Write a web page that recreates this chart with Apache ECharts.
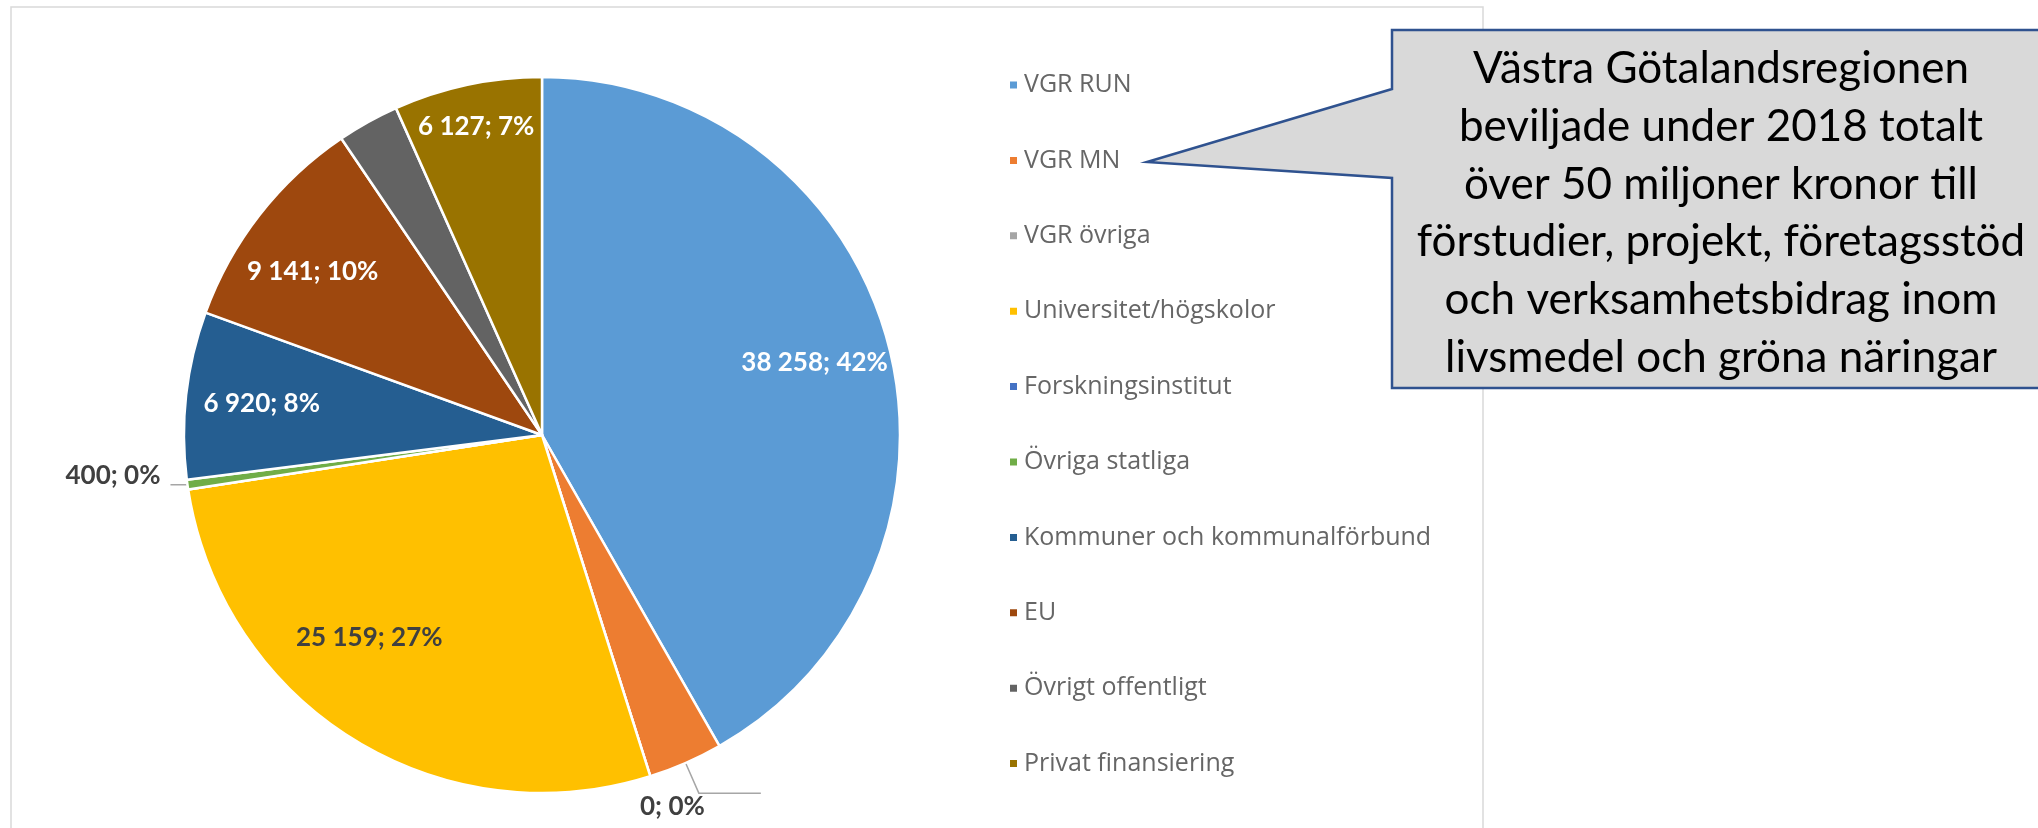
<!DOCTYPE html>
<html>
<head>
<meta charset="utf-8">
<script src="https://cdn.jsdelivr.net/npm/echarts@6/dist/echarts.min.js"></script>
<style>
  html, body { margin: 0; padding: 0; background: #fff; }
  #chart { width: 2038px; height: 828px; }
</style>
</head>
<body>
<div id="chart"></div>
<script>
// finansiering per källa (tkr)
var categories = ['VGR RUN', 'VGR MN', 'VGR övriga', 'Universitet/högskolor', 'Forskningsinstitut',
    'Övriga statliga', 'Kommuner och kommunalförbund', 'EU', 'Övrigt offentligt', 'Privat finansiering'];
var values = [38258, 3080, 0, 25159, 0, 400, 6920, 9141, 2550, 6127];
// etiketter som de står i bilden
var labelTexts = ['38 258; 42%', '0; 0%', '', '25 159; 27%', '', '400; 0%', '6 920; 8%', '9 141; 10%', '', '6 127; 7%'];
var outsideLabels = [1, 5];
var colors = ['#5B9BD5', '#ED7D31', '#A5A5A5', '#FFC000', '#4472C4',
    '#70AD47', '#255E91', '#9E480E', '#636363', '#997300'];
var calloutLines = [
    'Västra Götalandsregionen',
    'beviljade under 2018 totalt',
    'över 50 miljoner kronor till',
    'förstudier, projekt, företagsstöd',
    'och verksamhetsbidrag inom',
    'livsmedel och gröna näringar'
];

var chart = echarts.init(document.getElementById('chart'));

var labelFont = { fontFamily: 'Lato', fontWeight: 'bold', fontSize: 26 };

// huvudcirkeln, med de yttre etiketterna
var mainData = categories.map(function (name, i) {
    var isOut = outsideLabels.indexOf(i) >= 0;
    return {
        name: name,
        value: values[i],
        itemStyle: { color: colors[i] },
        label: { show: isOut, formatter: labelTexts[i] },
        labelLine: i === 1 ? { show: true, length: 33, length2: 62 } : { show: isOut, length: 1, length2: 16 }
    };
});

// osynlig ring som bara bär etiketterna inne i tårtbitarna
var ghostData = categories.map(function (name, i) {
    var show = labelTexts[i] !== '' && outsideLabels.indexOf(i) < 0;
    return {
        name: name,
        value: values[i],
        label: { show: show, formatter: labelTexts[i], color: colors[i] === '#FFC000' ? '#404040' : '#fff' }
    };
});

chart.setOption({
    animation: false,
    backgroundColor: '#fff',
    legend: {
        orient: 'vertical',
        left: 1003,
        top: 67,
        icon: 'rect',
        itemWidth: 9,
        itemHeight: 9,
        itemGap: 49.4,
        selectedMode: false,
        textStyle: { fontFamily: 'Open Sans', fontSize: 25, color: '#666', lineHeight: 26, padding: [0, 0, 0, 1] },
        data: categories.map(function (n, i) { return { name: n, itemStyle: { color: colors[i] } }; })
    },
    series: [{
        type: 'pie',
        center: [542, 435],
        radius: [0, 358],
        startAngle: 90,
        clockwise: true,
        avoidLabelOverlap: false,
        silent: true,
        itemStyle: { borderColor: '#fff', borderWidth: 2.5 },
        label: Object.assign({ position: 'outside', color: '#404040', distanceToLabelLine: 6 }, labelFont),
        labelLine: { lineStyle: { color: '#A6A6A6', width: 1.5 } },
        labelLayout: function (p) {
            if (p.dataIndex === 1) return { align: 'right', verticalAlign: 'top', dx: -62 };
            if (p.dataIndex === 5) return { verticalAlign: 'bottom', dy: 4, dx: -4 };
        },
        data: mainData
    }, {
        type: 'pie',
        center: [542, 435],
        radius: [200, 358],
        startAngle: 90,
        clockwise: true,
        avoidLabelOverlap: false,
        silent: true,
        itemStyle: { color: 'rgba(0,0,0,0)', borderWidth: 0 },
        label: Object.assign({ position: 'inside' }, labelFont),
        labelLine: { show: false },
        // Excel "best fit" flyttar ett par etiketter lite
        labelLayout: function (p) {
            if (p.dataIndex === 3) return { dx: -24, dy: -37 };
            if (p.dataIndex === 9) return { dx: -7, dy: -33 };
            if (p.dataIndex === 7) return { dx: -7, dy: 10 };
        },
        data: ghostData
    }],
    graphic: [{
        type: 'rect',
        silent: true,
        z: 0,
        shape: { x: 11, y: 7, width: 1472, height: 900 },
        style: { fill: 'none', stroke: '#D9D9D9', lineWidth: 1.5 }
    }, {
        // pratbubblan
        type: 'polygon',
        silent: true,
        z: 10,
        shape: { points: [[1392, 30], [2050, 30], [2050, 388], [1392, 388], [1392, 178], [1147, 162], [1392, 89]] },
        style: { fill: '#D9D9D9', stroke: '#2F528F', lineWidth: 2.5 }
    }, {
        type: 'text',
        silent: true,
        z: 11,
        x: 1721,
        y: 40,
        style: {
            text: calloutLines.join('\n'),
            font: '44px Lato',
            fill: '#000',
            align: 'center',
            verticalAlign: 'top',
            lineHeight: 57.8
        }
    }]
});
</script>
</body>
</html>
